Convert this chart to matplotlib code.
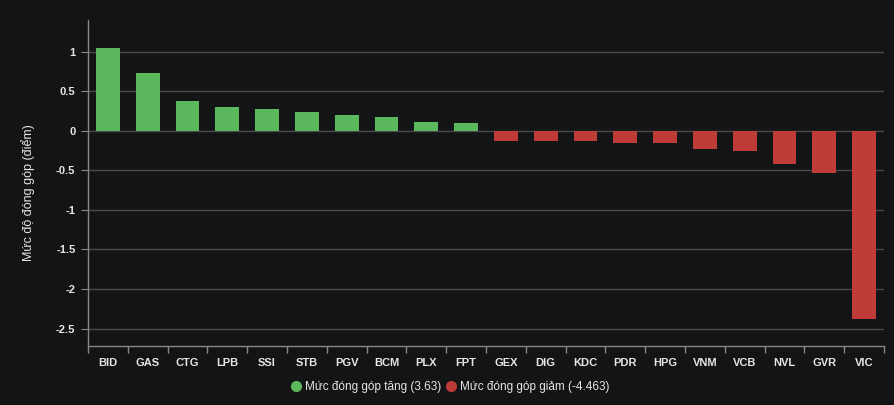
import matplotlib
matplotlib.use("Agg")
import matplotlib.pyplot as plt
import numpy as np
from matplotlib.lines import Line2D

# Data
tickers = ["BID", "GAS", "CTG", "LPB", "SSI", "STB", "PGV", "BCM", "PLX", "FPT",
           "GEX", "DIG", "KDC", "PDR", "HPG", "VNM", "VCB", "NVL", "GVR", "VIC"]
values = [1.04, 0.73, 0.37, 0.30, 0.27, 0.24, 0.20, 0.18, 0.11, 0.10,
          -0.13, -0.135, -0.135, -0.15, -0.16, -0.23, -0.25, -0.42, -0.53, -2.38]
yticks = [1, 0.5, 0, -0.5, -1, -1.5, -2, -2.5]
ytick_labels = ["1", "0.5", "0", "-0.5", "-1", "-1.5", "-2", "-2.5"]
legend_labels = ["Mức đóng góp tăng (3.63)", "Mức đóng góp giảm (-4.463)"]

bg = "#131416"
green = "#5cb85c"
red = "#bf3b37"
text_color = "#e6e6e6"

plt.rcParams["font.family"] = ["Liberation Sans", "DejaVu Sans"]

fig = plt.figure(figsize=(8.94, 4.05), dpi=100, facecolor=bg)
ax = fig.add_axes([88 / 894, 1 - 346 / 405, (884 - 88) / 894, (346 - 20) / 405])
ax.set_facecolor(bg)

x = np.arange(len(tickers))
colors = [green if v >= 0 else red for v in values]
ax.bar(x, values, width=0.6, color=colors, zorder=3)

ax.set_xlim(-0.5, len(tickers) - 0.5)
ax.set_ylim(-2.72, 1.40)

ax.set_yticks(yticks)
ax.set_yticklabels(ytick_labels)
ax.grid(axis="y", color="#4a4a4a", linewidth=1, zorder=0)

ax.set_xticks(x)
ax.set_xticklabels(tickers)
ax.set_xticks(np.arange(len(tickers) + 1) - 0.5, minor=True)
ax.tick_params(axis="x", which="major", length=0, pad=9, colors=text_color, labelsize=8)
ax.tick_params(axis="x", which="minor", length=5, color="#888888", width=1)
ax.tick_params(axis="y", length=5, color="#888888", colors=text_color, labelsize=8, pad=4)
for lab in ax.get_xticklabels() + ax.get_yticklabels():
    lab.set_fontweight("bold")

for side in ["top", "right"]:
    ax.spines[side].set_visible(False)
for side in ["left", "bottom"]:
    ax.spines[side].set_color("#888888")
    ax.spines[side].set_linewidth(1)

ax.set_ylabel("Mức độ đóng góp (điểm)", color=text_color, fontsize=9)
ax.yaxis.set_label_coords(-53 / 796, 0.472)

handles = [Line2D([], [], marker="o", linestyle="", color=green, markersize=7),
           Line2D([], [], marker="o", linestyle="", color=red, markersize=7)]
leg = fig.legend(handles, legend_labels, loc="center", bbox_to_anchor=(450 / 894, 1 - 387 / 405),
                 ncol=2, frameon=False, fontsize=8.5, handletextpad=0.3, columnspacing=0.3,
                 handlelength=1.0)
for t in leg.get_texts():
    t.set_color(text_color)

fig.savefig("out.png", dpi=100, facecolor=bg)
